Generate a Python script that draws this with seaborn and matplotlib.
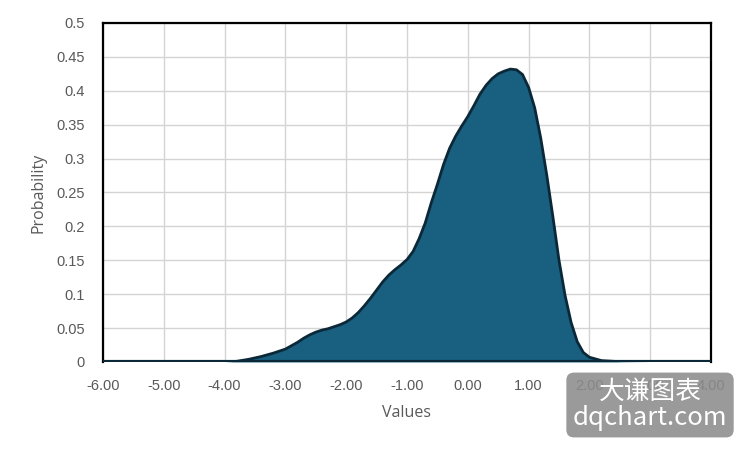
import matplotlib
matplotlib.use("Agg")
import matplotlib.pyplot as plt
import seaborn as sns
import pandas as pd

# Data
x_values = [-6.0, -5.0, -4.0, -3.8, -3.6, -3.4, -3.2, -3.0, -2.9, -2.8, -2.7, -2.6, -2.5,
            -2.4, -2.3, -2.2, -2.1, -2.0, -1.9, -1.8, -1.7, -1.6, -1.5, -1.4, -1.3, -1.2,
            -1.1, -1.0, -0.9, -0.8, -0.7, -0.6, -0.5, -0.4, -0.3, -0.2, -0.1, 0.0, 0.1,
            0.2, 0.3, 0.4, 0.5, 0.6, 0.7, 0.8, 0.9, 1.0, 1.1, 1.2, 1.3, 1.4, 1.5, 1.6,
            1.7, 1.8, 1.9, 2.0, 2.2, 2.5, 3.0, 4.0]
probabilities = [0.0, 0.0, 0.0, 0.001, 0.004, 0.008, 0.013, 0.019, 0.024, 0.029, 0.035, 0.040, 0.044,
                 0.047, 0.049, 0.052, 0.055, 0.059, 0.065, 0.073, 0.083, 0.094, 0.106, 0.118, 0.128, 0.136,
                 0.143, 0.151, 0.163, 0.182, 0.205, 0.235, 0.262, 0.291, 0.315, 0.333, 0.348, 0.362, 0.378,
                 0.395, 0.408, 0.418, 0.425, 0.429, 0.432, 0.431, 0.424, 0.405, 0.375, 0.330, 0.275, 0.214, 0.150, 0.098,
                 0.058, 0.030, 0.014, 0.007, 0.002, 0.0005, 0.0, 0.0]
x_ticks = [-6, -5, -4, -3, -2, -1, 0, 1, 2, 3, 4]
x_tick_labels = ["-6.00", "-5.00", "-4.00", "-3.00", "-2.00", "-1.00", "0.00", "1.00", "2.00", "3.00", "4.00"]
y_ticks = [0, 0.05, 0.1, 0.15, 0.2, 0.25, 0.3, 0.35, 0.4, 0.45, 0.5]
y_tick_labels = ["0", "0.05", "0.1", "0.15", "0.2", "0.25", "0.3", "0.35", "0.4", "0.45", "0.5"]

df = pd.DataFrame({"Values": x_values, "Probability": probabilities})

sns.set_theme(style="white")
plt.rcParams["font.family"] = ["Liberation Sans", "DejaVu Sans"]

fig = plt.figure(figsize=(7.5, 4.5), dpi=100)
ax = fig.add_axes([0.1373, 0.1956, 0.8107, 0.7533])

fill_color = "#185f80"
edge_color = "#0b2838"

ax.fill_between(df["Values"], df["Probability"], 0, color=fill_color, linewidth=0, zorder=2)
sns.lineplot(data=df, x="Values", y="Probability", ax=ax, color=edge_color, linewidth=2.0, zorder=3)
ax.plot([-6, 4], [0, 0], color=edge_color, linewidth=3, zorder=4, solid_capstyle="butt")

ax.set_xlim(-6, 4)
ax.set_ylim(0, 0.5)
ax.set_xticks(x_ticks)
ax.set_xticklabels(x_tick_labels)
ax.set_yticks(y_ticks)
ax.set_yticklabels(y_tick_labels)

ax.grid(True, color="#d4d4d4", linewidth=1.0, linestyle="-", zorder=0)
ax.set_axisbelow(True)

for side in ["left", "top", "right"]:
    ax.spines[side].set_color("black")
    ax.spines[side].set_linewidth(1.6)
    ax.spines[side].set_visible(True)
ax.spines["bottom"].set_visible(False)

ax.tick_params(axis="both", length=0, labelsize=10.5, labelcolor="#595959")
ax.tick_params(axis="y", pad=13)
ax.tick_params(axis="x", pad=12)

ax.set_xlabel("Values", fontsize=11.5, color="#595959", family=["Open Sans", "DejaVu Sans"], labelpad=9)
ax.set_ylabel("Probability", fontsize=11.5, color="#595959", family=["Open Sans", "DejaVu Sans"], labelpad=7)

# watermark
fig.text(0.8667, 0.1, "大谦图表\ndqchart.com", ha="center", va="center", color="white",
         fontsize=18.5, linespacing=1.0, family=["Noto Sans CJK SC", "DejaVu Sans"],
         bbox=dict(boxstyle="round,pad=0.25,rounding_size=0.3", facecolor="#8c8c8c", edgecolor="none", alpha=0.88),
         zorder=10)

fig.savefig("out.png", dpi=100)
